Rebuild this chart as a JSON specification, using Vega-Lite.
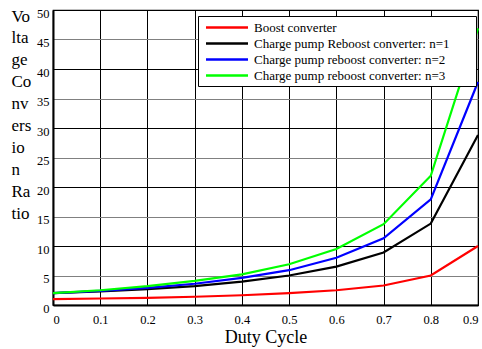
{
  "$schema": "https://vega.github.io/schema/vega-lite/v6.json",
  "width": 425,
  "height": 295,
  "autosize": {"type": "none"},
  "padding": {"left": 53, "top": 10, "right": 4, "bottom": 44},
  "background": "white",
  "config": {
    "font": "Liberation Serif",
    "axis": {"labelFont": "Liberation Serif", "titleFont": "Liberation Serif"},
    "legend": {"labelFont": "Liberation Serif"},
    "view": {"stroke": "black", "strokeWidth": 1.2}
  },
  "data": {
    "values": [
      {"D": 0, "series": "Boost converter", "ratio": 1.0},
      {"D": 0.1, "series": "Boost converter", "ratio": 1.1},
      {"D": 0.2, "series": "Boost converter", "ratio": 1.2},
      {"D": 0.3, "series": "Boost converter", "ratio": 1.4},
      {"D": 0.4, "series": "Boost converter", "ratio": 1.65},
      {"D": 0.5, "series": "Boost converter", "ratio": 2.0},
      {"D": 0.6, "series": "Boost converter", "ratio": 2.5},
      {"D": 0.7, "series": "Boost converter", "ratio": 3.3},
      {"D": 0.8, "series": "Boost converter", "ratio": 5.0},
      {"D": 0.9, "series": "Boost converter", "ratio": 10.0},
      {"D": 0, "series": "Charge pump Reboost converter: n=1", "ratio": 2.0},
      {"D": 0.1, "series": "Charge pump Reboost converter: n=1", "ratio": 2.3},
      {"D": 0.2, "series": "Charge pump Reboost converter: n=1", "ratio": 2.7},
      {"D": 0.3, "series": "Charge pump Reboost converter: n=1", "ratio": 3.2},
      {"D": 0.4, "series": "Charge pump Reboost converter: n=1", "ratio": 3.95},
      {"D": 0.5, "series": "Charge pump Reboost converter: n=1", "ratio": 5.0},
      {"D": 0.6, "series": "Charge pump Reboost converter: n=1", "ratio": 6.5},
      {"D": 0.7, "series": "Charge pump Reboost converter: n=1", "ratio": 8.9},
      {"D": 0.8, "series": "Charge pump Reboost converter: n=1", "ratio": 13.8},
      {"D": 0.9, "series": "Charge pump Reboost converter: n=1", "ratio": 28.8},
      {"D": 0, "series": "Charge pump reboost converter: n=2", "ratio": 2.0},
      {"D": 0.1, "series": "Charge pump reboost converter: n=2", "ratio": 2.4},
      {"D": 0.2, "series": "Charge pump reboost converter: n=2", "ratio": 2.9},
      {"D": 0.3, "series": "Charge pump reboost converter: n=2", "ratio": 3.6},
      {"D": 0.4, "series": "Charge pump reboost converter: n=2", "ratio": 4.6},
      {"D": 0.5, "series": "Charge pump reboost converter: n=2", "ratio": 5.9},
      {"D": 0.6, "series": "Charge pump reboost converter: n=2", "ratio": 8.0},
      {"D": 0.7, "series": "Charge pump reboost converter: n=2", "ratio": 11.3},
      {"D": 0.8, "series": "Charge pump reboost converter: n=2", "ratio": 17.9},
      {"D": 0.9, "series": "Charge pump reboost converter: n=2", "ratio": 37.8},
      {"D": 0, "series": "Charge pump reboost converter: n=3", "ratio": 2.0},
      {"D": 0.1, "series": "Charge pump reboost converter: n=3", "ratio": 2.5},
      {"D": 0.2, "series": "Charge pump reboost converter: n=3", "ratio": 3.2},
      {"D": 0.3, "series": "Charge pump reboost converter: n=3", "ratio": 4.1},
      {"D": 0.4, "series": "Charge pump reboost converter: n=3", "ratio": 5.2},
      {"D": 0.5, "series": "Charge pump reboost converter: n=3", "ratio": 6.9},
      {"D": 0.6, "series": "Charge pump reboost converter: n=3", "ratio": 9.5},
      {"D": 0.7, "series": "Charge pump reboost converter: n=3", "ratio": 13.7},
      {"D": 0.8, "series": "Charge pump reboost converter: n=3", "ratio": 21.9},
      {"D": 0.9, "series": "Charge pump reboost converter: n=3", "ratio": 46.9}
    ]
  },
  "mark": {"type": "line", "strokeWidth": 2.2},
  "encoding": {
    "x": {
      "field": "D",
      "type": "quantitative",
      "scale": {"domain": [0, 0.9], "nice": false},
      "axis": {
        "values": [0, 0.1, 0.2, 0.3, 0.4, 0.5, 0.6, 0.7, 0.8, 0.9],
        "format": "~g",
        "title": "Duty Cycle",
        "titleFont": "Liberation Serif",
        "titleFontSize": 18,
        "titleFontWeight": "normal",
        "titleColor": "black",
        "titlePadding": 3,
        "labelFont": "Liberation Serif",
        "labelFontSize": 12.5,
        "labelColor": "black",
        "labelPadding": 8,
        "ticks": false,
        "domainColor": "black",
        "domainWidth": 2,
        "gridColor": "black",
        "gridOpacity": 1,
        "gridWidth": 1
      }
    },
    "y": {
      "field": "ratio",
      "type": "quantitative",
      "scale": {"domain": [0, 50], "nice": false},
      "axis": {
        "values": [0, 5, 10, 15, 20, 25, 30, 35, 40, 45, 50],
        "title": ["Vo", "lta", "ge", "Co", "nv", "ers", "io", "n", "Ra", "tio"],
        "titleAngle": 0,
        "titleAlign": "left",
        "titleBaseline": "alphabetic",
        "titleX": -42,
        "titleY": 11,
        "titleLineHeight": 21.9,
        "titleFont": "Liberation Serif",
        "titleFontSize": 17,
        "titleFontWeight": "normal",
        "titleColor": "black",
        "labelFont": "Liberation Serif",
        "labelFontSize": 12.5,
        "labelColor": "black",
        "labelPadding": 4,
        "labelOffset": 3,
        "ticks": false,
        "domainColor": "black",
        "domainWidth": 2,
        "gridColor": {"condition": {"test": "datum.value % 10 === 0", "value": "black"}, "value": "#808080"},
        "gridOpacity": 1,
        "gridWidth": 1
      }
    },
    "color": {
      "field": "series",
      "type": "nominal",
      "scale": {
        "domain": ["Boost converter", "Charge pump Reboost converter: n=1", "Charge pump reboost converter: n=2", "Charge pump reboost converter: n=3"],
        "range": ["#ff0000", "#000000", "#0000ff", "#00ff00"]
      },
      "legend": {
        "title": null,
        "orient": "none",
        "legendX": 145,
        "legendY": 6,
        "direction": "vertical",
        "fillColor": "white",
        "strokeColor": "black",
        "padding": 3,
        "symbolType": "M-0.5,0H5.5",
        "symbolSize": 196,
        "symbolStrokeWidth": 2.5,
        "rowPadding": 0,
        "labelFont": "Liberation Serif",
        "labelFontSize": 13,
        "labelColor": "black",
        "labelOffset": 36,
        "labelLimit": 400,
        "labelExpr": "datum.label + '\u00a0\u00a0\u00a0\u00a0\u00a0\u00a0\u00a0\u200b'"
      }
    }
  }
}
